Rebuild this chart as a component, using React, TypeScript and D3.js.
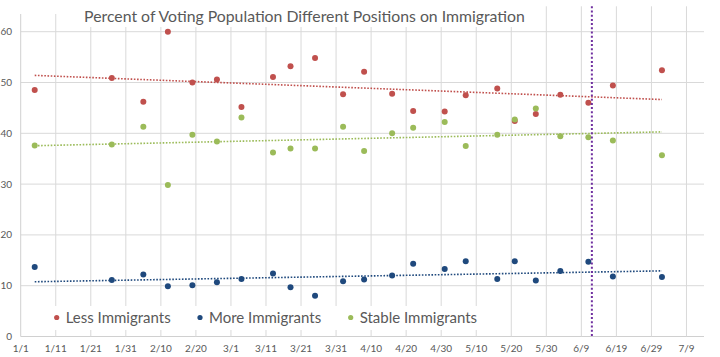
import React from "react";
import * as d3 from "d3";

const title = "Percent of Voting Population Different Positions on Immigration";

const pollDates = [
  "2016-01-05", "2016-01-27", "2016-02-05", "2016-02-12", "2016-02-19", "2016-02-26",
  "2016-03-04", "2016-03-13", "2016-03-18", "2016-03-25", "2016-04-02", "2016-04-08",
  "2016-04-16", "2016-04-22", "2016-05-01", "2016-05-07", "2016-05-16", "2016-05-21",
  "2016-05-27", "2016-06-03", "2016-06-11", "2016-06-18", "2016-07-02",
];

const lessImmigrants = [
  48.5, 50.9, 46.2, 60.0, 50.0, 50.6, 45.2, 51.1, 53.2, 54.8, 47.7, 52.1,
  47.8, 44.4, 44.3, 47.5, 48.8, 42.4, 43.8, 47.6, 46.0, 49.4, 52.4,
];
const moreImmigrants = [
  13.7, 11.1, 12.2, 9.9, 10.1, 10.7, 11.3, 12.4, 9.7, 8.0, 10.9, 11.2,
  12.0, 14.3, 13.3, 14.8, 11.3, 14.8, 11.0, 12.9, 14.7, 11.8, 11.7,
];
const stableImmigrants = [
  37.6, 37.8, 41.3, 29.8, 39.7, 38.4, 43.1, 36.2, 37.0, 37.0, 41.3, 36.5,
  40.0, 41.1, 42.2, 37.5, 39.7, 42.7, 44.9, 39.4, 39.2, 38.6, 35.7,
];

const seriesNames = ["Less Immigrants", "More Immigrants", "Stable Immigrants"];
const seriesColors = ["#C0504D", "#1F497D", "#9BBB59"];

const yTicks = [0, 10, 20, 30, 40, 50, 60];
const xTickLabels = [
  "1/1", "1/11", "1/21", "1/31", "2/10", "2/20", "3/1", "3/11", "3/21", "3/31",
  "4/10", "4/20", "4/30", "5/10", "5/20", "5/30", "6/9", "6/19", "6/29", "7/9",
];
const xDomain = ["2016-01-01", "2016-07-14"];
const eventDate = "2016-06-12";

const parse = (s: string) => new Date(s + "T00:00:00Z");

function regression(xs: number[], ys: number[]) {
  const mx = d3.mean(xs)!;
  const my = d3.mean(ys)!;
  let num = 0, den = 0;
  xs.forEach((x, i) => {
    num += (x - mx) * (ys[i] - my);
    den += (x - mx) * (x - mx);
  });
  const b = num / den;
  const a = my - b * mx;
  return (x: number) => a + b * x;
}

export default function App() {
  const W = 720, H = 357;
  const left = 20.7, right = 704, top = 6.3, bottom = 336.5;
  const x = d3.scaleUtc().domain(xDomain.map(parse)).range([left, right]);
  const y = d3.scaleLinear().domain([0, 65]).range([bottom, top]);
  const dates = pollDates.map(parse);
  const tickDates = xTickLabels.map((_, i) => d3.utcDay.offset(parse(xDomain[0]), i * 10));
  const allSeries = [lessImmigrants, moreImmigrants, stableImmigrants];
  const font = "Lato, 'Noto Sans', sans-serif";
  const textGray = "#595959";
  const grid = "#D9D9D9";

  return (
    <svg width={W} height={H}
      style={{ display: "block", position: "absolute", left: 0, top: 0, background: "#fff" }}>
      <rect x={0} y={0} width={W} height={H} fill="#fff" />
      {yTicks.map((t) => (
        <line key={"h" + t} x1={left} x2={right} y1={y(t)} y2={y(t)}
          stroke={t === 0 ? "#D0D0D0" : grid} strokeWidth={1} />
      ))}
      {tickDates.map((d, i) => (
        <line key={"v" + i} x1={x(d)} x2={x(d)} y1={top} y2={bottom}
          stroke={i === 0 ? "#D0D0D0" : grid} strokeWidth={1} />
      ))}
      <rect x={15} y={0} width={525} height={14} fill="#fff" />
      <rect x={72} y={0} width={466} height={27} fill="#fff" />
      <text x={304.5} y={22} textAnchor="middle" fontFamily={font} fontSize={15.8}
        fill={textGray}>{title}</text>
      {yTicks.map((t) => (
        <text key={"yl" + t} x={12} y={y(t) + 3.5} textAnchor="end" fontFamily={font}
          fontSize={10} fill={textGray}>{t}</text>
      ))}
      {tickDates.map((d, i) => (
        <text key={"xl" + i} x={x(d)} y={352} textAnchor="middle" fontFamily={font}
          fontSize={10} fill={textGray}>{xTickLabels[i]}</text>
      ))}
      {allSeries.map((vals, si) => {
        const xs = dates.map((d) => +d);
        const f = regression(xs, vals);
        const x0 = d3.min(xs)!, x1 = d3.max(xs)!;
        return (
          <line key={"tr" + si} x1={x(new Date(x0))} y1={y(f(x0))} x2={x(new Date(x1))} y2={y(f(x1))}
            stroke={seriesColors[si]} strokeWidth={1.6} strokeDasharray="1.6,1.6" />
        );
      })}
      {allSeries.map((vals, si) => (
        <g key={"s" + si}>
          {vals.map((v, i) => (
            <circle key={i} cx={x(dates[i])} cy={y(v)} r={3} fill={seriesColors[si]} />
          ))}
        </g>
      ))}
      <line x1={x(parse(eventDate))} x2={x(parse(eventDate))} y1={top} y2={bottom}
        stroke="#7030A0" strokeWidth={2} strokeDasharray="2,2.2" />
      <rect x={45} y={306} width={440} height={24} fill="#fff" />
      {seriesNames.map((n, i) => {
        const lx = [56.7, 200, 350.7][i];
        return (
          <g key={"lg" + i}>
            <circle cx={lx} cy={317.5} r={2.6} fill={seriesColors[i]} />
            <text x={lx + 9} y={322.5} fontFamily={font} fontSize={15} fill={textGray}>{n}</text>
          </g>
        );
      })}
    </svg>
  );
}
